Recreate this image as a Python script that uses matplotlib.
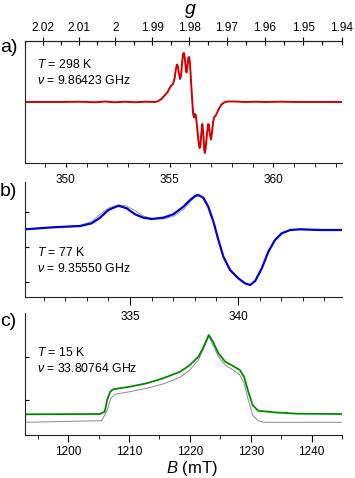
import matplotlib
matplotlib.use('Agg')
import matplotlib.pyplot as plt
from matplotlib.ticker import MultipleLocator

plt.rcParams['font.family'] = ['Liberation Sans', 'DejaVu Sans']
plt.rcParams['mathtext.fontset'] = 'custom'
plt.rcParams['mathtext.rm'] = 'Liberation Sans'
plt.rcParams['mathtext.it'] = 'Liberation Sans:italic'

# panel a: 298 K, X-band (B in mT, signal in arbitrary units)
a_B = [348.03, 349.72, 350.68, 351.41, 351.89, 352.37, 352.86, 353.34, 353.82, 354.30,
       354.45, 354.60, 354.75, 354.90, 355.00, 355.08, 355.16, 355.24, 355.30, 355.35,
       355.39, 355.44, 355.50, 355.55, 355.60, 355.65, 355.69, 355.73, 355.78, 355.81,
       355.85, 355.90, 355.94, 355.98, 356.03, 356.09, 356.13, 356.17, 356.21, 356.26,
       356.32, 356.39, 356.44, 356.48, 356.53, 356.57, 356.62, 356.66, 356.69, 356.73,
       356.79, 356.85, 356.89, 356.94, 356.99, 357.03, 357.09, 357.15, 357.22, 357.30,
       357.40, 357.50, 357.62, 357.80, 358.16, 358.65, 359.13, 359.61, 360.34, 361.30,
       362.27, 363.33]
a_I = [0, 0, 0.3, -0.3, 0.5, -0.3, 0.3, -0.3, 0.3, 0,
       1, 3, 6.5, 10, 14, 16.5, 18, 24, 33, 37.5,
       36, 29, 23, 27, 40, 48.5, 49, 44, 32, 29.5,
       36, 44.5, 45, 38, 20, 0, -12, -15.5, -12, -13,
       -25, -40, -46, -43, -30, -22, -32, -47, -51, -47,
       -33, -22, -23, -33, -37.5, -32, -20, -15, -13.5, -10,
       -5.5, -2.5, -0.5, 0.5, 0.5, 0, 0.3, 0, 0.3, 0,
       0, 0]
nu_a = 9.86423
g_major = [2.02, 2.01, 2.00, 1.99, 1.98, 1.97, 1.96, 1.95, 1.94]
g_minor = [2.025, 2.015, 2.005, 1.995, 1.985, 1.975, 1.965, 1.955, 1.945]

# panel b: 77 K, X-band
b_B = [330.14, 331.45, 332.69, 333.23, 333.61, 334.00, 334.46, 334.85, 335.23, 335.62,
       336.00, 336.54, 337.00, 337.47, 337.78, 338.01, 338.16, 338.39, 338.62, 338.86,
       339.09, 339.32, 339.63, 340.01, 340.32, 340.56, 340.79, 341.10, 341.40, 341.71,
       342.02, 342.41, 342.87, 343.80, 344.81]
b_I = [0.7, 2.7, 4, 6.7, 12.3, 20, 24.3, 21.7, 15.7, 12.3,
       11, 12.3, 15.7, 23.3, 30, 34, 35, 32.3, 23.3, 8.3,
       -10, -26.7, -40, -48.3, -53.3, -55, -51, -38.3, -21.7, -10,
       -3.3, 0, 0.7, 0, 0]
b_sim = [0.7, 2.7, 4.5, 8.5, 15.5, 22, 25, 24, 19.5, 14,
         11.5, 11, 13.5, 20.5, 28, 33, 34.5, 32.8, 23.3, 8.3,
         -10, -26.7, -40, -48.3, -53.3, -55, -51, -38.3, -21.7, -10,
         -3.3, 0, 0.7, 0, 0]

# panel c: 15 K, Q-band
c_B = [1192.9, 1205.2, 1206.0, 1206.4, 1206.9, 1207.4, 1210.1, 1212.9, 1215.6, 1218.4,
       1220.0, 1221.4, 1222.0, 1222.5, 1223.1, 1223.8, 1224.3, 1224.7, 1225.8, 1227.1,
       1228.2, 1228.9, 1229.6, 1230.3, 1231.2, 1233.7, 1237.6, 1245.0]
c_I = [20.7, 21, 23.3, 35, 43.3, 45.7, 48.3, 51.7, 56.7, 63.3,
       70, 78.3, 85, 91.7, 100, 93.3, 86.7, 81.7, 73.3, 69,
       65, 58.3, 43.3, 30, 24.3, 22.7, 21.3, 21]
c_sim_B = [1192.9, 1205.5, 1206.4, 1207.0, 1207.7, 1210.1, 1212.9, 1215.6, 1218.4, 1220.0,
           1221.4, 1222.5, 1223.1, 1223.8, 1224.7, 1225.8, 1227.1, 1228.2, 1228.9, 1229.6,
           1230.3, 1231.2, 1232.1, 1245.0]
c_sim_I = [12.7, 14.3, 25, 36.7, 40.7, 43.3, 46.7, 51, 57.7, 65,
           75, 90, 99, 90, 78.3, 70, 65, 60, 51.7, 35,
           20, 14.3, 12.7, 12.7]

W, H = 355, 478
fig = plt.figure(figsize=(W / 100, H / 100), dpi=100)
ax_a = fig.add_axes([25 / W, 1 - 163 / H, 317 / W, 122 / H])
ax_b = fig.add_axes([25 / W, 1 - 297 / H, 317 / W, 115 / H])
ax_c = fig.add_axes([25 / W, 1 - 435 / H, 317 / W, 122 / H])

gray = '#8a8a8a'
ax_a.plot(a_B, a_I, color=gray, lw=0.6)
ax_a.plot(a_B, a_I, color='#d40000', lw=1.4)
ax_b.plot(b_B, b_sim, color=gray, lw=0.6)
ax_b.plot(b_B, b_I, color='#0000d8', lw=1.6)
ax_c.plot(c_sim_B, c_sim_I, color=gray, lw=0.7)
ax_c.plot(c_B, c_I, color='#008a00', lw=1.3)

ax_a.set_xlim(348.03, 363.3)
ax_a.set_ylim(-61, 61)
ax_b.set_xlim(330.14, 344.81)
ax_b.set_ylim(-67, 48)
ax_c.set_xlim(1192.9, 1245.0)
ax_c.set_ylim(0, 122)

for ax in (ax_a, ax_b, ax_c):
    ax.patch.set_visible(False)
    ax.spines['right'].set_visible(False)
    for s in ax.spines.values():
        s.set_linewidth(0.8)
        s.set_color('#222222')
    ax.tick_params(axis='y', direction='in', length=3, width=0.8, labelleft=False)
    ax.tick_params(axis='x', labelsize=8.5, width=0.8)
ax_b.spines['top'].set_visible(False)
ax_c.spines['top'].set_visible(False)

ax_a.set_yticks([])
ax_b.set_yticks([-52, -17, 18])
ax_c.set_yticks([35, 77.7])

ax_a.xaxis.set_major_locator(MultipleLocator(5))
ax_a.xaxis.set_minor_locator(MultipleLocator(1))
ax_a.tick_params(axis='x', which='both', direction='out', length=3, pad=5)

ax_b.xaxis.set_major_locator(MultipleLocator(5))
ax_b.xaxis.set_minor_locator(MultipleLocator(1))
ax_b.tick_params(axis='x', which='major', direction='out', length=6, pad=4)
ax_b.tick_params(axis='x', which='minor', direction='out', length=3)

ax_c.xaxis.set_major_locator(MultipleLocator(10))
ax_c.xaxis.set_minor_locator(MultipleLocator(5))
ax_c.tick_params(axis='x', which='major', direction='out', length=5, pad=3)
ax_c.tick_params(axis='x', which='minor', direction='out', length=3)

# g-scale on top of panel a
ax_g = ax_a.twiny()
ax_g.patch.set_visible(False)
ax_g.set_xlim(ax_a.get_xlim())
k = 71.4477 * nu_a
ax_g.set_xticks([k / g for g in g_major])
ax_g.set_xticklabels([f'{g:g}' for g in g_major])
ax_g.set_xticks([k / g for g in g_minor], minor=True)
ax_g.tick_params(axis='x', which='major', direction='inout', length=6, width=0.8,
                 labelsize=8.5, pad=2)
ax_g.tick_params(axis='x', which='minor', direction='in', length=3, width=0.8)
for name in ('left', 'right', 'bottom'):
    ax_g.spines[name].set_visible(False)
ax_g.spines['top'].set_linewidth(0.8)
ax_g.spines['top'].set_color('#222222')

fig.text(190 / W, 1 - 10 / H, 'g', fontsize=14, style='italic', ha='center', va='center')
fig.text(192 / W, 1 - 469 / H, '$B$ (mT)', fontsize=12, ha='center', va='center')

fig.text(0.0, 1 - 47 / H, 'a)', fontsize=14, ha='left', va='center')
fig.text(0.0, 1 - 192 / H, 'b)', fontsize=14, ha='left', va='center')
fig.text(0.0, 1 - 322 / H, 'c)', fontsize=14, ha='left', va='center')

notes = [(298, '9.86423', 65, 81),
         (77, '9.35550', 253, 269),
         (15, '33.80764', 352, 369)]
for temp, freq, y1, y2 in notes:
    fig.text(37 / W, 1 - y1 / H, f'$T$ = {temp} K', fontsize=8.8, va='center')
    fig.text(37 / W, 1 - y2 / H, rf'$\nu$ = {freq} GHz', fontsize=8.8, va='center')

fig.savefig('out.png', dpi=100)
